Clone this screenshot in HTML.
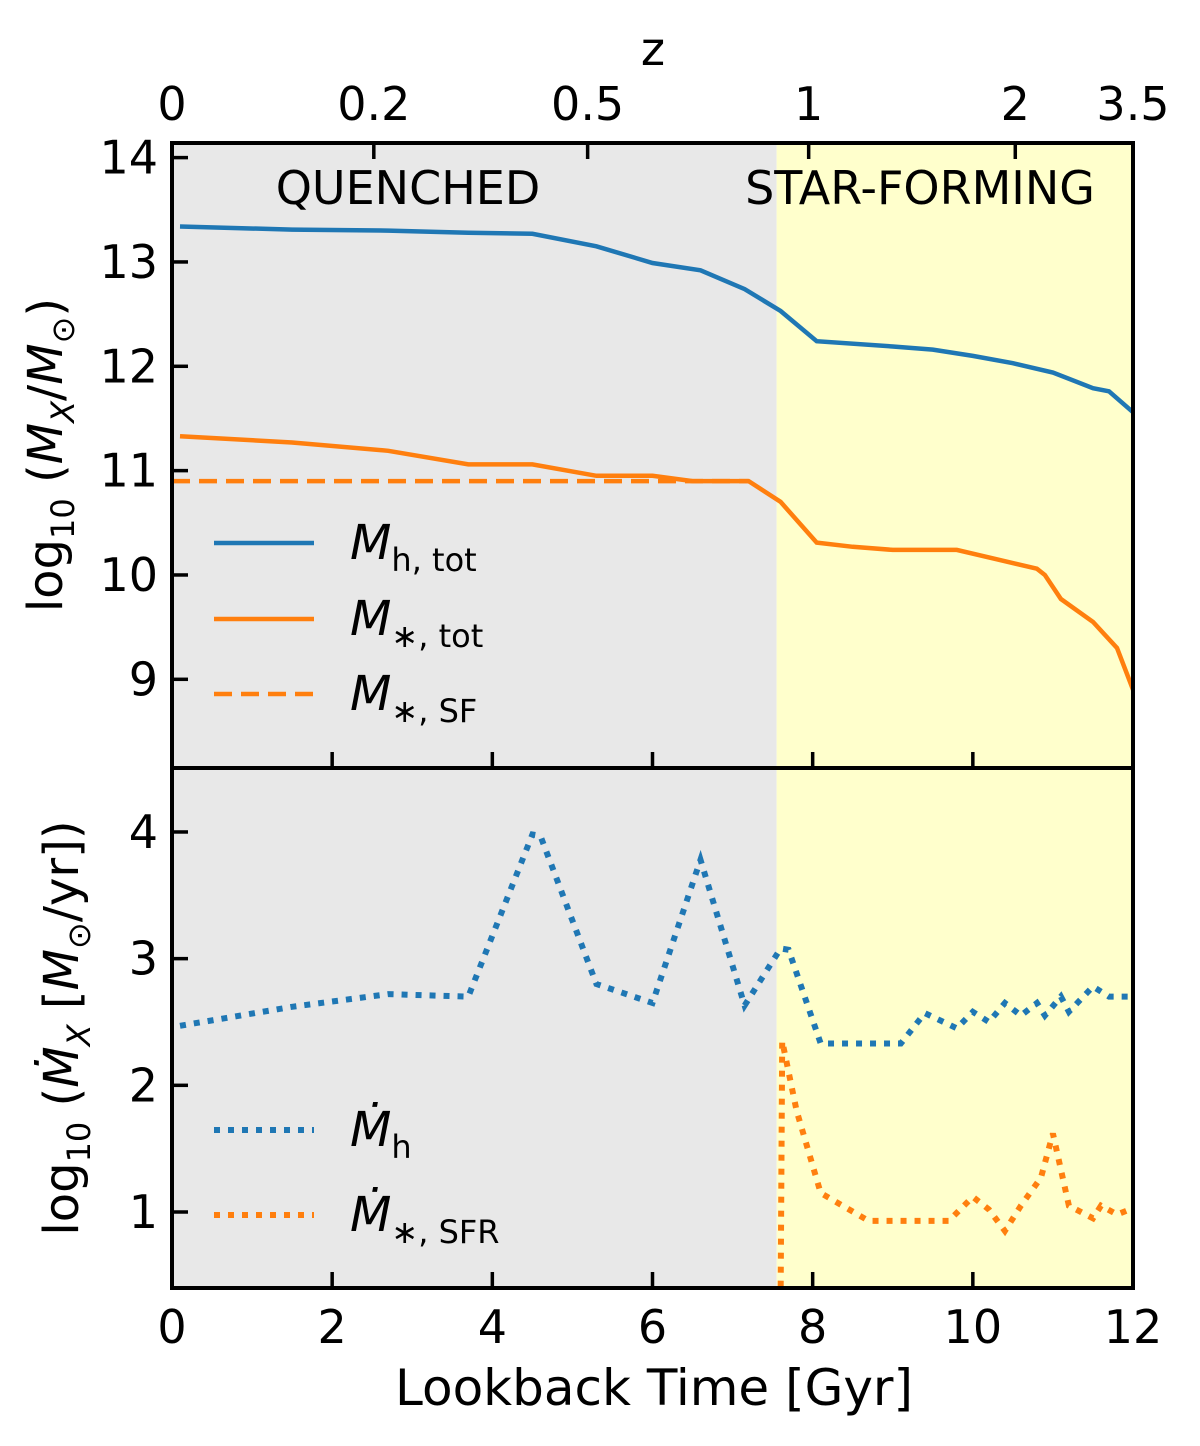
<!DOCTYPE html>
<html><head><meta charset="utf-8"><style>
body{margin:0;background:#fff}
svg text{font-family:"DejaVu Sans","Liberation Sans",sans-serif;fill:#000}
</style></head><body>
<svg id="chart" width="1200" height="1441" viewBox="0 0 1200 1441" xmlns="http://www.w3.org/2000/svg"></svg>
<script>
const mhT=[0.1,1.5,2.7,3.7,4.5,5.3,6.0,6.6,7.15,7.6,8.05,9.0,9.5,10.0,10.5,11.0,11.5,11.7,12.0];
const mhV=[13.34,13.31,13.30,13.28,13.27,13.15,12.99,12.92,12.74,12.53,12.24,12.19,12.16,12.10,12.03,11.94,11.79,11.76,11.56];
const msT=[0.1,1.5,2.7,3.7,4.5,5.3,6.0,6.5,7.2,7.6,8.05,8.5,9.0,9.8,10.3,10.8,10.9,11.1,11.5,11.8,12.0];
const msV=[11.33,11.27,11.19,11.06,11.06,10.95,10.95,10.9,10.9,10.7,10.31,10.27,10.24,10.24,10.15,10.06,10.0,9.77,9.55,9.3,8.9];
const sfT=[0,7.2];
const sfV=[10.9,10.9];
const mhdT=[0.1,1.5,2.7,3.7,4.5,4.6,5.3,6.0,6.6,7.15,7.6,7.7,8.1,9.1,9.4,9.8,10.0,10.2,10.4,10.6,10.8,10.9,11.1,11.2,11.5,11.7,12.0];
const mhdV=[2.47,2.62,2.72,2.70,3.98,3.97,2.8,2.65,3.78,2.63,3.08,3.07,2.33,2.33,2.57,2.45,2.58,2.5,2.65,2.55,2.65,2.55,2.7,2.58,2.78,2.7,2.7];
const sfrT=[7.6,7.62,7.8,8.1,8.7,9.7,10.0,10.2,10.4,10.6,10.85,11.0,11.2,11.5,11.6,11.8,12.0];
const sfrV=[0.3,2.35,1.8,1.15,0.93,0.93,1.12,1.02,0.85,1.05,1.27,1.62,1.05,0.95,1.05,0.98,1.03];
const xTicks=[0,2,4,6,8,10,12];
const topY=[9,10,11,12,13,14];
const botY=[1,2,3,4];
const zLabels=["0","0.2","0.5","1","2","3.5"];
const zTimes=[0,2.52,5.19,7.95,10.53,12];
const quenchEnd=7.55;

const L=172,R=1133,T1=143,B1=768,T2=768,B2=1288;
const X=t=>L+(t/12)*(R-L);
const Y1=v=>T1+(14.14-v)/(14.14-8.15)*(B1-T1);
const Y2=v=>T2+(4.505-v)/(4.505-0.4)*(B2-T2);
const svg=document.getElementById('chart');
const NS='http://www.w3.org/2000/svg';
function mk(tag,attrs,parent){const e=document.createElementNS(NS,tag);for(const k in attrs)e.setAttribute(k,attrs[k]);(parent||svg).appendChild(e);return e;}

let e;
e=mk('rect',{x:L,y:T1,width:X(quenchEnd)-L,height:B2-T1,fill:'#e8e8e8'});


e=mk('rect',{x:X(quenchEnd),y:T1,width:R-X(quenchEnd),height:B2-T1,fill:'#ffffcc'});



const clip=mk('clipPath',{id:'c1'});mk('rect',{x:L,y:T1,width:R-L,height:B1-T1},clip);
const clip2=mk('clipPath',{id:'c2'});mk('rect',{x:L,y:T2,width:R-L,height:B2-T2},clip2);

function line(ts,vs,Y,color,dash,name,cl){
  const d=ts.map((t,i)=>(i?'L':'M')+X(t).toFixed(1)+' '+Y(vs[i]).toFixed(1)).join(' ');
  const p=mk('path',{d:d,fill:'none',stroke:color,'stroke-width':dash==='dot'?6:4.5,'stroke-dasharray':dash==='dot'?'6,8':(dash==='dash'?'18,9':'none'),'clip-path':'url(#'+cl+')'});
  
  
}
line(mhT,mhV,Y1,'#1f77b4',null,'halo-mass-line','c1');
line(msT,msV,Y1,'#ff7f0e',null,'stellar-mass-line','c1');
line(sfT,sfV,Y1,'#ff7f0e','dash','sf-stellar-mass-line','c1');
line(mhdT,mhdV,Y2,'#1f77b4','dot','halo-accretion-line','c2');
line(sfrT,sfrV,Y2,'#ff7f0e','dot','sfr-line','c2');

mk('rect',{x:L,y:T1,width:R-L,height:B2-T1,fill:'none',stroke:'#000','stroke-width':4});
mk('line',{x1:L,x2:R,y1:B1,y2:B1,stroke:'#000','stroke-width':4});

function txt(x,y,s,size,anchor,name){const t=mk('text',{x:x,y:y,'font-size':size,'text-anchor':anchor||'middle'});t.innerHTML=s;return t;}

xTicks.forEach(t=>{
  mk('line',{x1:X(t),x2:X(t),y1:B2,y2:B2-16,stroke:'#000','stroke-width':3.5});
  mk('line',{x1:X(t),x2:X(t),y1:B1,y2:B1-16,stroke:'#000','stroke-width':3.5});
  txt(X(t),B2+55,t,46,'middle','x-tick-label');
});
zTimes.forEach((t,i)=>{
  mk('line',{x1:X(t),x2:X(t),y1:T1,y2:T1+16,stroke:'#000','stroke-width':3.5});
  txt(X(t)+(i==5?0:0),T1-23,zLabels[i],46,'middle','z-tick-label');
});
topY.forEach(v=>{
  mk('line',{x1:L,x2:L+16,y1:Y1(v),y2:Y1(v),stroke:'#000','stroke-width':3.5});
  txt(L-14,Y1(v)+16,v,46,'end','top-y-tick-label');
});
botY.forEach(v=>{
  mk('line',{x1:L,x2:L+16,y1:Y2(v),y2:Y2(v),stroke:'#000','stroke-width':3.5});
  txt(L-14,Y2(v)+16,v,46,'end','bottom-y-tick-label');
});
txt(653,65,'z',46,'middle','top-x-axis-title');
txt(654,1405,'Lookback Time [Gyr]',50,'middle','x-axis-title');
txt(408,204,'QUENCHED',46,'middle','quenched-label');
txt(920,204,'STAR-FORMING',46,'middle','star-forming-label');
let t1=txt(0,0,'log<tspan font-size="32" dy="12">10</tspan><tspan dy="-12"> (</tspan><tspan font-style="italic">M<tspan font-size="32" dy="12">X</tspan></tspan><tspan dy="-12">/</tspan><tspan font-style="italic">M</tspan><tspan font-size="32" dy="12">⊙</tspan><tspan dy="-12">)</tspan>',48,'middle','top-y-axis-title');
t1.setAttribute('transform','translate(62,455) rotate(-90)');
let t2=txt(0,0,'log<tspan font-size="32" dy="12">10</tspan><tspan dy="-12"> (</tspan><tspan font-style="italic">Ṁ<tspan font-size="32" dy="12">X</tspan></tspan><tspan dy="-12"> [</tspan><tspan font-style="italic">M</tspan><tspan font-size="32" dy="12">⊙</tspan><tspan dy="-12">/yr])</tspan>',48,'middle','bottom-y-axis-title');
t2.setAttribute('transform','translate(78,1028) rotate(-90)');

function legend(y,color,dash,label,name){
  const l=mk('line',{x1:214,x2:314,y1:y,y2:y,stroke:color,'stroke-width':dash==='dot'?6:4.5,'stroke-dasharray':dash==='dot'?'6,8':(dash==='dash'?'18,9':'none')});
  
  
  txt(350,y+16,label,48,'start',name+'-label');
}
legend(543,'#1f77b4',null,'<tspan font-style="italic">M</tspan><tspan font-size="32" dy="12">h, tot</tspan>','legend-halo-mass');
legend(619,'#ff7f0e',null,'<tspan font-style="italic">M</tspan><tspan font-size="32" dy="12">∗, tot</tspan>','legend-stellar-mass');
legend(694,'#ff7f0e','dash','<tspan font-style="italic">M</tspan><tspan font-size="32" dy="12">∗, SF</tspan>','legend-sf-stellar-mass');
legend(1130,'#1f77b4','dot','<tspan font-style="italic">Ṁ</tspan><tspan font-size="32" dy="12">h</tspan>','legend-halo-accretion');
legend(1215,'#ff7f0e','dot','<tspan font-style="italic">Ṁ</tspan><tspan font-size="32" dy="12">∗, SFR</tspan>','legend-sfr');
</script>
</body></html>
